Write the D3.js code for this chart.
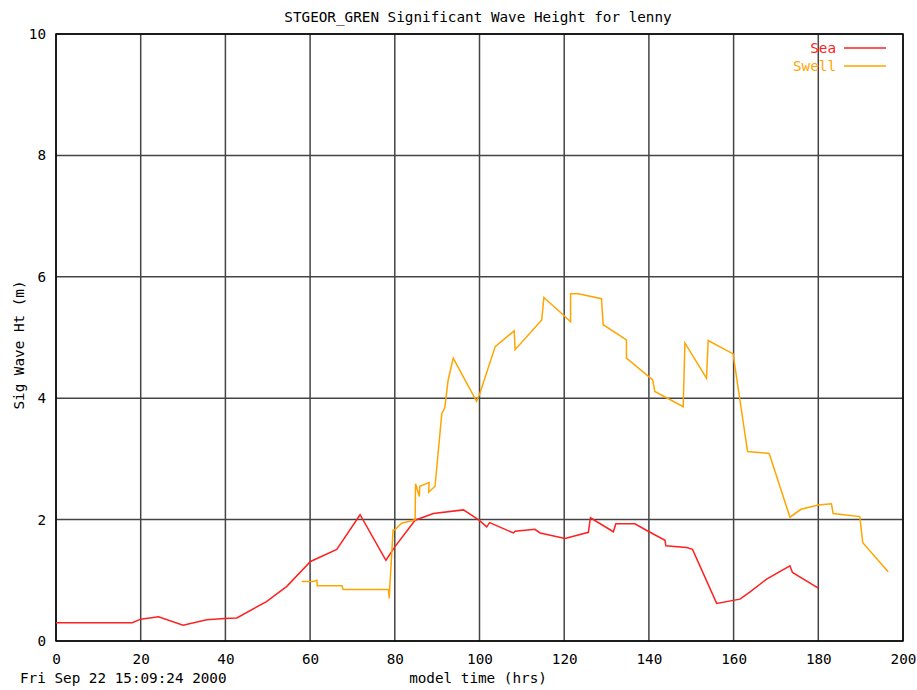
<!DOCTYPE html>
<html lang="en">
<head>
  <meta charset="UTF-8">
  <title>STGEOR_GREN Significant Wave Height for lenny</title>
  <style>
    body { margin: 0; background: #fff; }
    text { font-family: "DejaVu Sans Mono", monospace; font-size: 14.3px; }
  </style>
</head>
<body>
  <script src="https://cdnjs.cloudflare.com/ajax/libs/d3/7.8.5/d3.min.js"></script>
  <script>
    // data (hours, metres)
    let seaTime = [0, 18, 20, 24.2, 30, 35.6, 39.8, 42.7, 49.7, 54.5, 60.1, 66.3, 71.8, 77.9, 80, 84.8, 89.1, 96.2, 99.9, 101.7, 102.4, 108, 108.4, 113.1, 114.3, 120.2, 125.7, 126.2, 131.6, 132.2, 136.7, 139.5, 143.8, 144.0, 148.9, 150.3, 156, 161.5, 163.9, 167.8, 173.3, 173.9, 180]
    let seaHt = [0.30, 0.30, 0.36, 0.40, 0.26, 0.35, 0.37, 0.38, 0.65, 0.90, 1.31, 1.51, 2.08, 1.33, 1.55, 1.99, 2.10, 2.16, 1.99, 1.88, 1.95, 1.78, 1.81, 1.84, 1.78, 1.69, 1.79, 2.03, 1.80, 1.93, 1.93, 1.82, 1.66, 1.57, 1.54, 1.51, 0.62, 0.69, 0.81, 1.02, 1.24, 1.13, 0.87]

    let swellTime = [58, 60.8, 61.6, 61.7, 67.5, 67.8, 78.5, 78.7, 78.8, 79.6, 80, 81.6, 84, 84.8, 84.9, 85.8, 85.9, 88.1, 88.0, 89.5, 91.1, 91.8, 92.6, 93.8, 99.3, 100.1, 103.7, 108.2, 108.4, 114.7, 115.2, 119.8, 121.5, 121.5, 123.3, 128.8, 129.2, 134.7, 134.7, 140.9, 141.4, 148.1, 148.5, 153.6, 154.0, 159.9, 160.2, 163.3, 168.4, 173.3, 175.9, 180, 183.1, 183.5, 189.8, 190.5, 196.5]
    let swellHt = [0.98, 0.98, 1.00, 0.91, 0.91, 0.85, 0.85, 0.70, 0.87, 1.83, 1.83, 1.94, 1.98, 2.00, 2.59, 2.38, 2.55, 2.61, 2.45, 2.55, 3.75, 3.84, 4.30, 4.66, 3.95, 4.08, 4.85, 5.11, 4.80, 5.29, 5.66, 5.37, 5.26, 5.72, 5.72, 5.64, 5.21, 4.96, 4.66, 4.30, 4.11, 3.86, 4.91, 4.33, 4.95, 4.73, 4.58, 3.12, 3.09, 2.04, 2.17, 2.24, 2.26, 2.10, 2.05, 1.62, 1.14]

    let xTicks = [0, 20, 40, 60, 80, 100, 120, 140, 160, 180, 200]
    let yTicks = [0, 2, 4, 6, 8, 10]

    let width = 917
    let height = 690
    let margin = { left: 56, right: 14, top: 34, bottom: 49 }

    let svg = d3.select('body')
      .append('svg')
      .attr('width', width)
      .attr('height', height)

    let xScale = d3.scaleLinear()
      .domain([0, 200])
      .range([margin.left, width - margin.right])

    let yScale = d3.scaleLinear()
      .domain([0, 10])
      .range([height - margin.bottom, margin.top])

    // grid
    let grid = svg.append('g')
    grid.selectAll('.vgrid')
      .data(xTicks)
      .enter()
      .append('line')
      .attr('x1', d => xScale(d))
      .attr('x2', d => xScale(d))
      .attr('y1', yScale(0))
      .attr('y2', yScale(10))
      .attr('stroke', '#444')
      .attr('stroke-width', 1.5)
    grid.selectAll('.hgrid')
      .data(yTicks)
      .enter()
      .append('line')
      .attr('x1', xScale(0))
      .attr('x2', xScale(200))
      .attr('y1', d => yScale(d))
      .attr('y2', d => yScale(d))
      .attr('stroke', '#444')
      .attr('stroke-width', 1.5)

    // axes (labels only, gnuplot style)
    let xAxis = d3.axisBottom(xScale).tickValues(xTicks).tickSize(0).tickPadding(13)
    let yAxis = d3.axisLeft(yScale).tickValues(yTicks).tickSize(0).tickPadding(10)

    svg.append('g')
      .attr('transform', `translate(0,${yScale(0)})`)
      .call(xAxis)
      .call(g => g.select('.domain').remove())
      .selectAll('text')
      .attr('fill', '#000')
      .style('font-size', '14.3px')

    svg.append('g')
      .attr('transform', `translate(${xScale(0)},0)`)
      .call(yAxis)
      .call(g => g.select('.domain').remove())
      .selectAll('text')
      .attr('fill', '#000')
      .style('font-size', '14.3px')

    // border
    svg.append('rect')
      .attr('x', xScale(0))
      .attr('y', yScale(10))
      .attr('width', xScale(200) - xScale(0))
      .attr('height', yScale(0) - yScale(10))
      .attr('fill', 'none')
      .attr('stroke', '#000')
      .attr('stroke-width', 1.5)

    let line = d3.line()
      .x(d => xScale(d[0]))
      .y(d => yScale(d[1]))

    svg.append('path')
      .datum(seaTime.map((t, i) => [t, seaHt[i]]))
      .attr('d', line)
      .attr('fill', 'none')
      .attr('stroke', '#ff2020')
      .attr('stroke-width', 1.5)

    svg.append('path')
      .datum(swellTime.map((t, i) => [t, swellHt[i]]))
      .attr('d', line)
      .attr('fill', 'none')
      .attr('stroke', '#ffa500')
      .attr('stroke-width', 1.5)

    // legend
    let legend = [{ name: 'Sea', color: '#ff2020' }, { name: 'Swell', color: '#ffa500' }]
    let lg = svg.selectAll('.legend')
      .data(legend)
      .enter()
      .append('g')
      .attr('transform', (d, i) => `translate(0,${48 + i * 18})`)
    lg.append('text')
      .attr('x', 836)
      .attr('y', 5)
      .attr('text-anchor', 'end')
      .attr('fill', d => d.color)
      .text(d => d.name)
    lg.append('line')
      .attr('x1', 844)
      .attr('x2', 886)
      .attr('y1', 0)
      .attr('y2', 0)
      .attr('stroke', d => d.color)
      .attr('stroke-width', 1.5)

    // titles
    svg.append('text')
      .attr('x', 478)
      .attr('y', 22)
      .attr('text-anchor', 'middle')
      .text('STGEOR_GREN Significant Wave Height for lenny')

    svg.append('text')
      .attr('x', 478)
      .attr('y', 683)
      .attr('text-anchor', 'middle')
      .text('model time (hrs)')

    svg.append('text')
      .attr('x', 20)
      .attr('y', 683)
      .text('Fri Sep 22 15:09:24 2000')

    svg.append('text')
      .attr('transform', 'translate(24,345) rotate(-90)')
      .attr('text-anchor', 'middle')
      .text('Sig Wave Ht (m)')
  </script>
</body>
</html>
